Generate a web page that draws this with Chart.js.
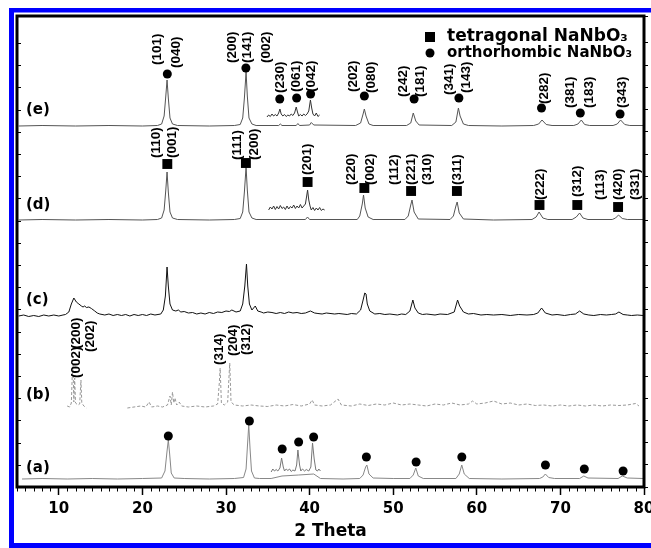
<!DOCTYPE html>
<html>
<head>
<meta charset="utf-8">
<script src="https://cdn.jsdelivr.net/npm/chart.js@4"></script>
<style>
  html, body { margin: 0; padding: 0; background: #fff; }
  #xrd { display: block; }
</style>
</head>
<body>
<canvas id="xrd" width="651" height="548"></canvas>
<script>
// each pattern is [2theta, intensity above its own baseline]; patterns are stacked by offsets
const offsets = { a: 8, b: 79, c: 171, d: 267, e: 361 };
const xTickValues = [10, 20, 30, 40, 50, 60, 70, 80];
const traceNames = ['(a)', '(b)', '(c)', '(d)', '(e)'];
const traceNameY = [11, 13, 16, 15, 16];
const seriesNames = ['tetragonal NaNbO\u2083', 'orthorhombic NaNbO\u2083'];

const traceE = [[5.2,0],[8,0.5],[12,0],[16,0.5],[20,0],[21.8,0.5],[22.3,2],[22.6,10],[22.8,30],[22.95,46],[23.1,28],[23.3,8],[23.6,2],[24.2,0.5],[28,0],[31,0.5],
  [31.7,1.5],[32.0,8],[32.2,28],[32.4,54],[32.55,30],[32.75,8],[33.1,2],[33.6,0.5],[36.3,0.5],[36.5,2],[36.7,0.5],[38.4,0.5],[38.6,2.5],[38.8,0.5],
  [40.0,1],[40.2,3.5],[40.5,1],[45.5,0.5],[46.1,3],[46.4,12],[46.55,17],[46.75,10],[47.1,2],[47.6,0.5],[51.6,0.5],[52.1,3],[52.4,13],[52.7,5],[53.1,1],
  [57.0,0.5],[57.5,4],[57.8,18],[58.0,10],[58.4,2],[59,0.5],[63,0],[66.8,0.5],[67.4,2],[67.8,6],[68.3,1.5],[69,0.5],[71.6,0.5],[72.1,2],[72.5,6],[72.9,1.5],
  [73.5,0.5],[76.3,0.5],[76.8,2],[77.2,6],[77.7,1.5],[78.3,0.5],[79.9,0.5]];
const insetE = [[34.9,9],[35.1,11],[35.3,9.5],[35.5,12],[35.7,10],[35.9,11.5],[36.1,10],[36.3,13],[36.45,17],[36.6,12],[36.8,10],[37.0,11.5],[37.2,9.5],
  [37.4,11],[37.6,10],[37.8,12],[38.0,10.5],[38.2,13],[38.4,19],[38.55,14],[38.7,10],[38.9,11.5],[39.1,10],[39.3,12],[39.5,10.5],[39.7,12],[39.9,15],
  [40.1,26],[40.25,18],[40.4,12],[40.6,10],[40.8,13],[41.0,9.5],[41.2,11]];

const traceD = [[5.2,0],[8,0.5],[12,0],[16,0.5],[20,0],[21.8,0.5],[22.3,2],[22.6,10],[22.8,30],[22.95,48],[23.1,28],[23.3,8],[23.6,2],[24.2,0.5],[28,0],[31,0.5],
  [31.7,1.5],[32.0,8],[32.2,28],[32.4,53],[32.55,30],[32.75,8],[33.1,2],[33.6,0.5],[39.5,0.5],[39.75,3],[40.0,0.5],[45.7,0.5],[46.0,4],[46.3,16],[46.45,25],
  [46.65,12],[47.0,3],[47.6,0.5],[51.4,0.5],[51.8,4],[52.1,15],[52.25,20],[52.5,8],[53.0,1],[56.8,0.5],[57.2,4],[57.5,14],[57.65,18],[57.9,7],[58.4,1],
  [62,0],[66.6,0.5],[67.1,3],[67.45,8],[67.9,2],[68.5,0.5],[71.4,0.5],[71.9,3],[72.3,7],[72.7,2],[73.3,0.5],[76.2,0.5],[76.6,2],[76.95,5],[77.4,1.5],
  [78,0.5],[79.9,0.5]];
const insetD = [[35.1,10],[35.3,13],[35.5,11],[35.7,14],[35.9,10.5],[36.1,13.5],[36.3,11],[36.5,14.5],[36.7,11.5],[36.9,13],[37.1,10.5],[37.3,14],[37.5,11],
  [37.7,13.5],[37.9,12],[38.1,15],[38.3,11.5],[38.5,14],[38.7,12],[38.9,15.5],[39.1,12],[39.3,14],[39.5,16],[39.65,24],[39.76,30],[39.9,20],[40.05,14],
  [40.2,10],[40.4,12.5],[40.6,9.5],[40.8,12],[41.0,10],[41.2,12.5],[41.4,9.5],[41.6,11],[41.8,10]];

const traceC = [[5.2,0],[5.8,1],[6.4,-0.5],[7,0.5],[7.6,-0.5],[8.2,1],[8.8,0],[9.4,1],[10,0],[10.5,1],[10.8,1.5],[11.2,4],[11.5,12],[11.8,18],[12.1,14],
  [12.4,12],[12.7,10],[12.9,9],[13.1,10],[13.3,8.5],[13.6,9],[13.9,7.5],[14.3,5],[14.6,3],[14.9,2],[15.5,1],[16,2],[16.5,0.5],[17,1.5],[17.5,0.5],[18,1.5],
  [18.5,0],[19,1.5],[19.5,0.5],[20,1.5],[20.5,0.5],[21,2],[21.5,1],[22.2,2],[22.5,6],[22.75,20],[22.95,49],[23.1,30],[23.3,12],[23.6,6],[24.0,5],[24.3,6],
  [24.6,4],[25,4.5],[25.5,3],[26,3.5],[26.5,2],[27,3],[27.5,2],[28,3.5],[28.5,2.5],[29,4],[29.5,3.5],[30,5],[30.4,4.5],[30.7,6],[31.2,4],[31.7,5],
  [32.0,12],[32.25,30],[32.45,52],[32.6,30],[32.8,12],[33.1,6],[33.5,10],[33.8,5],[34.2,4],[34.5,3],[35,4],[35.5,3.5],[36,2.5],[36.5,3.5],[37,2.5],
  [37.5,4],[38,3],[38.5,3.5],[39,2.5],[39.5,3],[40.1,5],[40.6,3],[41,2.5],[41.5,2],[42,3],[43,2],[43.5,2.5],[44.5,1.5],[45,2.5],[45.6,2],[46.1,6],
  [46.4,16],[46.6,23],[46.75,22],[46.9,12],[47.2,5],[47.8,2],[48.4,2.5],[49,1.5],[49.6,2],[50.5,1],[51,2],[51.5,1.5],[52.0,5],[52.35,16],[52.6,8],
  [53.0,3],[53.5,1.5],[54,2],[55,1],[55.6,2],[56.5,1.5],[57.3,4],[57.7,16],[57.95,10],[58.4,4],[59,2],[59.6,2.5],[60.5,1],[61.2,1.5],[62,1],[63,1.5],
  [64,0.5],[65,1.5],[66,1],[66.8,1.5],[67.3,3],[67.75,8],[68.2,3],[69,1],[69.6,1.5],[70.5,0.5],[71.2,1.5],[71.8,2],[72.3,5],[72.8,2],[73.4,1],[74,0.5],
  [74.8,1.5],[75.5,1],[76.1,1.5],[76.6,2],[77.0,4],[77.5,1.5],[78,1],[78.5,0.5],[79.2,1],[79.9,0.5]];

const traceB = [[11.0,2],[11.3,1],[11.5,5],[11.6,30],[11.7,43],[11.8,6],[11.9,30],[12.0,5],[12.3,3],[12.5,4],[12.65,28],[12.75,5],[13.0,2],[13.3,0],
  [15,null],
  [18.2,0],[19,1],[19.8,2],[20.4,1],[20.8,6],[21.1,1],[21.8,2],[22.4,1],[23.0,3],[23.3,12],[23.45,3],[23.6,16],[23.75,5],[23.9,10],[24.1,3],[24.4,6],
  [24.7,2],[25.5,1],[26.5,2],[27.5,1],[28.5,2],[29.0,4],[29.2,25],[29.3,40],[29.45,5],[29.8,3],[30.2,6],[30.35,30],[30.45,45],[30.6,6],[31,3],[32,2],
  [33,3],[34,2],[35,1.5],[36,3],[37,2],[38,3.5],[39,2],[40,4],[40.3,8],[40.6,3],[41.5,2],[42.5,3],[43.4,9],[43.8,3],[45,2],[46,4],[47,2.5],[48,4],
  [49,3],[50,5],[51,3],[52,4],[53,3],[54,2],[55,4],[56,3],[57,5],[58,3],[59,4],[59.5,7],[60,4],[61,5],[62,7],[63,4],[64,5],[65,3],[66,4],[67,2.5],
  [68,3],[69,2],[70,3],[71,2],[72,3],[73,2],[74,3],[75,2],[76,3],[77,2.5],[78,3],[79,4.5],[79.4,2]];

const traceA = [[5.6,0],[8,0.5],[11,0],[14,0.5],[17,0],[20,0.5],[22.3,1],[22.7,8],[22.95,28],[23.1,39],[23.25,26],[23.45,6],[23.8,1],[25,0.5],[28,0],
  [31,0.5],[32.1,1.5],[32.4,10],[32.58,35],[32.72,54],[32.88,30],[33.05,8],[33.4,1],[34,0.5],[35.4,0.5],[36.7,3],[38.7,4],[40.5,5],[41.3,0.5],[44,0],
  [46,0.5],[46.4,4],[46.7,12],[46.85,14],[47.1,5],[47.6,1],[50,0.5],[52,0.5],[52.4,4],[52.7,11],[53.0,3],[53.6,0.5],[57.5,0.5],[57.9,5],[58.2,14],
  [58.5,5],[59.1,0.5],[63,0],[67.5,0.5],[67.9,2],[68.2,5],[68.6,1.5],[69.3,0.5],[72.3,0.5],[72.8,3],[73.3,1],[76.9,0.5],[77.4,3],[78,1],[79.9,0.5]];
const insetA = [[35.4,7],[35.6,10],[35.8,8],[36.0,9.5],[36.2,8],[36.45,11],[36.65,21],[36.85,12],[37.0,8],[37.2,10],[37.4,8.5],[37.6,10],[37.8,7.5],
  [38.0,9],[38.25,8],[38.45,14],[38.6,29],[38.8,14],[38.95,8],[39.15,10],[39.4,8],[39.6,9.5],[39.9,8],[40.15,12],[40.35,36],[40.55,20],[40.75,9],
  [40.95,8],[41.1,10],[41.3,8]];

// phase markers above the peaks
const orthoE = [[22.98,52],[32.38,58],[36.43,27],[38.45,28],[40.12,32],[46.55,30],[52.5,27],[57.86,28],[67.74,18],[72.38,13],[77.14,12]];
const tetraD = [[22.98,56],[32.38,57],[39.76,38],[46.55,32],[52.14,29],[57.62,29],[67.5,15],[72.02,15],[76.9,13]];
const orthoA = [[23.1,43],[32.8,58],[36.72,30],[38.69,37],[40.48,42],[46.79,22],[52.74,17],[58.21,22],[68.21,14],[72.86,10],[77.5,8]];

// Miller index labels: [2theta, height where the text starts, text]
const hklE = [[21.79,61,'(101)'],[24.05,58,'(040)'],[30.71,63,'(200)'],[32.5,63,'(141)'],[34.76,63,'(002)'],[36.55,33,'(230)'],[38.45,34,'(061)'],
  [40.24,34,'(042)'],[45.24,34,'(202)'],[47.38,33,'(080)'],[51.19,29,'(242)'],[53.21,29,'(181)'],[56.67,31,'(341)'],[58.69,33,'(143)'],[68.1,22,'(282)'],
  [71.19,18,'(381)'],[73.45,18,'(183)'],[77.38,18,'(343)']];
const hklD = [[21.67,62,'(110)'],[23.57,62,'(001)'],[31.31,60,'(111)'],[33.33,60,'(200)'],[39.76,45,'(201)'],[45.0,35,'(220)'],[47.26,35,'(002)'],
  [50.12,35,'(112)'],[52.14,35,'(221)'],[54.05,35,'(310)'],[57.62,35,'(311)'],[67.62,20,'(222)'],[72.02,23,'(312)'],[74.76,20,'(113)'],[76.9,20,'(420)'],
  [78.93,20,'(331)']];
const hklB = [[12.14,30,'(002)'],[12.14,59,'(200)'],[13.81,56,'(202)'],[29.17,43,'(314)'],[30.83,52,'(204)'],[32.38,53,'(312)']];

const shift = (arr, off) => arr.map(([t, h]) => ({ x: t, y: h === null ? null : off + h }));

const lineSet = (arr, off, color, dash) => ({
  data: shift(arr, off), borderColor: color, borderWidth: 1, borderDash: dash || [], pointRadius: 0, tension: 0, order: 2, spanGaps: false
});
const markSet = (label, arr, off, style, r) => ({
  label, data: shift(arr, off), showLine: false, pointStyle: style, pointRadius: r,
  backgroundColor: '#000', borderColor: '#000', borderWidth: 0, order: 1
});

const hklGroups = [[hklE, offsets.e], [hklD, offsets.d], [hklB, offsets.b]];
const nameOffsets = [offsets.a, offsets.b, offsets.c, offsets.d, offsets.e];

const decor = {
  id: 'decor',
  beforeDraw(chart) {
    const { ctx, width, height } = chart;
    ctx.save();
    ctx.fillStyle = '#fff';
    ctx.fillRect(0, 0, width, height);
    ctx.fillStyle = '#0000ff';
    ctx.fillRect(9, 8, width - 9, 4.5);
    ctx.fillRect(9, 8, 5, height - 8);
    ctx.fillRect(9, height - 5, width - 9, 5);
    ctx.restore();
  },
  afterDatasetsDraw(chart) {
    const { ctx, chartArea: a, scales: { x, y } } = chart;
    ctx.save();
    ctx.strokeStyle = '#000';
    ctx.lineWidth = 1;
    ctx.beginPath();
    for (let v = 5; v <= 80; v++) {
      if (v % 10 === 0) continue;
      const px = Math.round(x.getPixelForValue(v)) + 0.5;
      ctx.moveTo(px, a.bottom);
      ctx.lineTo(px, a.bottom + 4.5);
    }
    y.ticks.forEach(t => {
      const py = Math.round(y.getPixelForValue(t.value)) + 0.5;
      ctx.moveTo(a.left, py);
      ctx.lineTo(a.left + 4, py);
    });
    ctx.stroke();
    ctx.lineWidth = 3;
    ctx.strokeRect(a.left, a.top, a.right - a.left, a.bottom - a.top);

    ctx.fillStyle = '#000';
    ctx.font = 'bold 13.5px "Liberation Sans", Arial, sans-serif';
    ctx.textAlign = 'left';
    ctx.textBaseline = 'middle';
    hklGroups.forEach(([list, off]) => list.forEach(([t, h, txt]) => {
      ctx.save();
      ctx.translate(x.getPixelForValue(t), y.getPixelForValue(off + h));
      ctx.rotate(-Math.PI / 2);
      ctx.fillText(txt, 0, 0);
      ctx.restore();
    }));

    ctx.font = 'bold 15px "DejaVu Sans", sans-serif';
    traceNames.forEach((n, i) => {
      ctx.fillText(n, x.getPixelForValue(6.07), y.getPixelForValue(nameOffsets[i] + traceNameY[i]));
    });

    // legend
    const lx = a.right - 214, tx = a.right - 197;
    ctx.fillRect(lx - 5, a.top + 16, 10, 10);
    ctx.font = 'bold 17px "DejaVu Sans", sans-serif';
    ctx.fillText(seriesNames[0], tx, a.top + 21);
    ctx.beginPath();
    ctx.arc(lx, a.top + 37, 4.5, 0, Math.PI * 2);
    ctx.fill();
    ctx.font = 'bold 15px "DejaVu Sans", sans-serif';
    ctx.fillText(seriesNames[1], tx, a.top + 37);
    ctx.restore();
  }
};

new Chart(document.getElementById('xrd'), {
  type: 'line',
  data: {
    datasets: [
      markSet(seriesNames[1], orthoE, offsets.e, 'circle', 4.5),
      markSet(seriesNames[0], tetraD, offsets.d, 'rect', 7),
      markSet(seriesNames[1], orthoA, offsets.a, 'circle', 4.5),
      lineSet(traceE, offsets.e, '#555'),
      lineSet(insetE, offsets.e, '#333'),
      lineSet(traceD, offsets.d, '#555'),
      lineSet(insetD, offsets.d, '#333'),
      lineSet(traceC, offsets.c, '#111'),
      lineSet(traceB, offsets.b, '#999', [3, 2]),
      lineSet(traceA, offsets.a, '#888'),
      lineSet(insetA, offsets.a, '#777')
    ]
  },
  options: {
    responsive: false,
    animation: false,
    events: [],
    layout: { padding: { left: 17, top: 16, right: 0, bottom: 0 } },
    plugins: { legend: { display: false }, tooltip: { enabled: false } },
    scales: {
      x: {
        type: 'linear', min: 5, max: 80,
        afterBuildTicks: s => { s.ticks = xTickValues.map(v => ({ value: v })); },
        afterFit: s => { s.paddingLeft = 0; s.paddingRight = 0; s.height = 61; },
        grid: { drawOnChartArea: false, tickLength: 8, tickWidth: 1.5, tickColor: '#000' },
        border: { display: false },
        ticks: { color: '#000', padding: 5, maxRotation: 0, autoSkip: false,
          font: { family: '"DejaVu Sans", sans-serif', weight: 'bold', size: 15 } },
        title: { display: true, text: '2 Theta', color: '#000', padding: { top: 0, bottom: 6 },
          font: { family: '"DejaVu Sans", sans-serif', weight: 'bold', size: 17 } }
      },
      y: {
        position: 'right', min: 0, max: 471,
        afterFit: s => { s.width = 4.5; },
        ticks: { display: false, stepSize: 22.2 },
        grid: { drawOnChartArea: false, tickLength: 4, tickColor: '#000' },
        border: { display: false }
      }
    }
  },
  plugins: [decor]
});
</script>
</body>
</html>
